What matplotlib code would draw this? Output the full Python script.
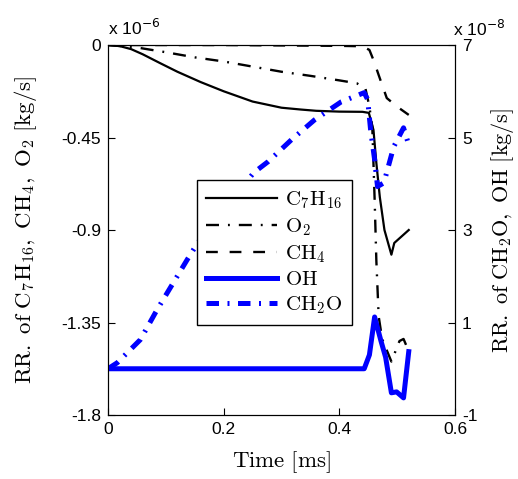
import matplotlib
matplotlib.use('Agg')
import matplotlib.pyplot as plt

plt.rcParams['mathtext.fontset'] = 'cm'
plt.rcParams['font.family'] = ['Liberation Sans', 'DejaVu Sans']

# ---- data (left axis in units of 1e-6 kg/s, right axis in 1e-8 kg/s) ----
t_c7h16 = [0, 0.02, 0.04, 0.06, 0.09, 0.12, 0.16, 0.2, 0.25, 0.3, 0.334, 0.36, 0.4, 0.44,
           0.451, 0.459, 0.464, 0.47, 0.478, 0.49, 0.495, 0.52]
v_c7h16 = [0, -0.005, -0.02, -0.045, -0.088, -0.13, -0.18, -0.225, -0.275, -0.305, -0.314,
           -0.32, -0.324, -0.325, -0.33, -0.413, -0.574, -0.74, -0.9, -1.02, -0.963, -0.9]

t_o2 = [0, 0.05, 0.1, 0.15, 0.2, 0.25, 0.3, 0.35, 0.4, 0.43, 0.445, 0.452, 0.457, 0.461,
        0.464, 0.468, 0.474, 0.49, 0.504, 0.511, 0.52]
v_o2 = [0, -0.012, -0.035, -0.06, -0.08, -0.105, -0.13, -0.15, -0.172, -0.186, -0.21,
        -0.3, -0.4, -0.75, -1.05, -1.32, -1.43, -1.54, -1.44, -1.43, -1.49]

t_ch4 = [0, 0.1, 0.2, 0.3, 0.4, 0.44, 0.452, 0.46, 0.468, 0.482, 0.5, 0.513, 0.52]
v_ch4 = [0, 0, 0, -0.002, -0.004, -0.006, -0.024, -0.08, -0.146, -0.258, -0.3, -0.326, -0.34]

t_oh = [0, 0.1, 0.2, 0.3, 0.4, 0.443, 0.452, 0.461, 0.472, 0.48, 0.49, 0.499, 0.511, 0.52]
v_oh = [0, 0, 0, 0, 0, 0, 0.3, 1.12, 0.6, 0.25, -0.52, -0.5, -0.63, 0.37]

t_ch2o = [0, 0.016, 0.056, 0.085, 0.137, 0.155, 0.2, 0.252, 0.277, 0.317, 0.357, 0.403,
          0.443, 0.449, 0.454, 0.461, 0.466, 0.477, 0.494, 0.511, 0.52]
v_ch2o = [0, 0.13, 0.63, 1.28, 2.36, 2.72, 3.43, 4.24, 4.48, 4.95, 5.38, 5.77,
          5.97, 5.82, 5.17, 4.52, 3.94, 4.02, 4.8, 5.21, 4.84]

x_ticks = [0, 0.2, 0.4, 0.6]
x_ticklabels = ['0', '0.2', '0.4', '0.6']
yl_ticks = [0, -0.45, -0.9, -1.35, -1.8]
yl_ticklabels = ['0', '-0.45', '-0.9', '-1.35', '-1.8']
yr_ticks = [-1, 1, 3, 5, 7]
yr_ticklabels = ['-1', '1', '3', '5', '7']

labels = [r'$\mathrm{C_7H_{16}}$', r'$\mathrm{O_2}$', r'$\mathrm{CH_4}$',
          r'$\mathrm{OH}$', r'$\mathrm{CH_2O}$']

fig = plt.figure(figsize=(5.18, 4.79), dpi=100)
ax = fig.add_axes([0.2085, 0.1336, 0.6699, 0.7724])
ax2 = ax.twinx()

blue = (0, 0, 1)
l1, = ax.plot(t_c7h16, v_c7h16, color='k', lw=1.6, solid_joinstyle='round')
l2, = ax.plot(t_o2, v_o2, color='k', lw=1.7, dashes=(5.5, 3.8, 0.8, 3.8))
l3, = ax.plot(t_ch4, v_ch4, color='k', lw=1.7, dashes=(5, 5))
l4, = ax2.plot(t_oh, v_oh, color=blue, lw=3.6, solid_joinstyle='round')
l5, = ax2.plot(t_ch2o, v_ch2o, color=blue, lw=3.6, dashes=(2.5, 1.7, 0.4, 1.7))

ax.set_xlim(0, 0.6)
ax.set_ylim(-1.8, 0)
ax2.set_ylim(-1, 7)
ax.set_xticks(x_ticks)
ax.set_xticklabels(x_ticklabels)
ax.set_yticks(yl_ticks)
ax.set_yticklabels(yl_ticklabels)
ax2.set_yticks(yr_ticks)
ax2.set_yticklabels(yr_ticklabels)

for a in (ax, ax2):
    a.tick_params(direction='in', length=5, width=0.8, labelsize=12.5, pad=5)
    for s in a.spines.values():
        s.set_linewidth(0.8)

ax.set_xlabel(r'$\mathrm{Time\ [ms]}$', fontsize=16.5, labelpad=9)
ax.set_ylabel(r'$\mathrm{RR.\ of\ C_7H_{16},\ CH_4,\ O_2\ [kg/s]}$', fontsize=16.5, labelpad=16)
ax2.set_ylabel(r'$\mathrm{RR.\ of\ CH_2O,\ OH\ [kg/s]}$', fontsize=16, labelpad=8)

fig.text(0.2085, 0.927, r'x 10$^{-6}$', fontsize=12.5, math_fontfamily='dejavusans',
         ha='left', va='baseline')
fig.text(0.8745, 0.925, r'x 10$^{-8}$', fontsize=12.5, math_fontfamily='dejavusans',
         ha='left', va='baseline')

leg = ax2.legend([l1, l2, l3, l4, l5], labels, loc='upper left',
                 bbox_to_anchor=(0.256, 0.635), borderaxespad=0, fontsize=15,
                 fancybox=False, edgecolor='black', framealpha=1,
                 handlelength=3.4, handletextpad=0.4, labelspacing=0.25, borderpad=0.45)
leg.get_frame().set_linewidth(1.0)

fig.savefig('out.png', dpi=100)
